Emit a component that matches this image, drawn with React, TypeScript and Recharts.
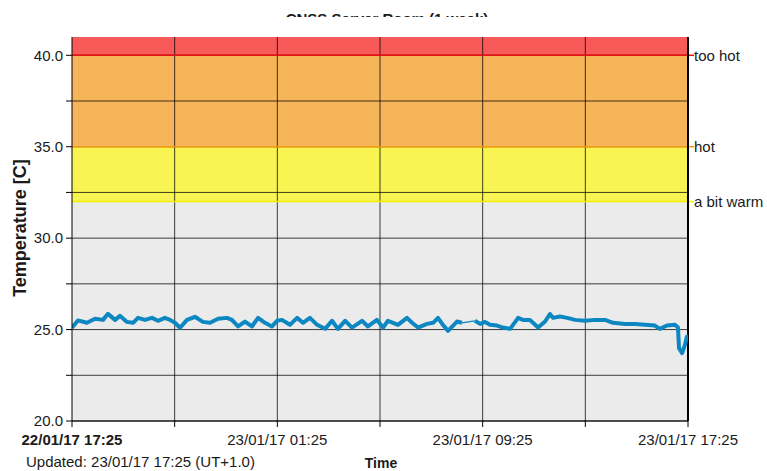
import React from 'react';
import { ComposedChart, Line, XAxis, YAxis, ReferenceArea, ReferenceLine } from 'recharts';

// hours since 22/01/17 17:25
const hours = [
  0, 0.23, 0.58, 0.9, 1.21, 1.4, 1.68, 1.87, 2.14, 2.38, 2.57, 2.84, 3.12, 3.35, 3.62, 3.82,
  4.01, 4.21, 4.48, 4.79, 5.1, 5.38, 5.69, 6.04, 6.23, 6.47, 6.74, 7.01, 7.25, 7.52, 7.79, 7.99,
  8.18, 8.49, 8.77, 9.0, 9.27, 9.55, 9.86, 10.13, 10.36, 10.64, 10.91, 11.3, 11.53, 11.88, 12.12,
  12.31, 12.51, 12.7, 13.05, 13.25, 13.48, 13.83, 14.07, 14.26, 14.45, 14.65, 15.0, 15.19, 15.45,
  15.7, 15.9, 16.09, 16.29, 16.56, 16.79, 17.07, 17.38, 17.57, 17.84, 18.16, 18.43, 18.62, 18.74,
  19.01, 19.29, 19.6, 19.99, 20.38, 20.77, 21.08, 21.55, 21.94, 22.32, 22.71, 22.9, 23.18, 23.49,
  23.61, 23.65, 23.77, 23.88, 23.96, 24.0,
];
const temps: (number | null)[] = [
  25.1, 25.5, 25.37, 25.59, 25.53, 25.86, 25.53, 25.75, 25.42, 25.37, 25.64, 25.53, 25.64, 25.48, 25.64, 25.53,
  25.37, 25.1, 25.53, 25.7, 25.42, 25.37, 25.59, 25.64, 25.53, 25.17, 25.44, 25.17, 25.64, 25.37, 25.17, 25.48,
  25.53, 25.26, 25.64, 25.37, 25.64, 25.26, 25.04, 25.48, 25.04, 25.48, 25.11, 25.48, 25.17, 25.53, 25.11,
  25.48, 25.37, 25.26, 25.64, 25.37, 25.11, 25.31, 25.37, 25.64, 25.26, 24.93, 25.44, 25.37, null,
  25.48, 25.31, 25.42, 25.26, 25.22, 25.11, 25.04, 25.64, 25.53, 25.53, 25.11, 25.44, 25.85, 25.64,
  25.71, 25.64, 25.53, 25.48, 25.53, 25.53, 25.37, 25.31, 25.31, 25.26, 25.22, 25.04, 25.22, 25.26,
  25.11, 23.98, 23.71, 24.16, 24.62, 24.55,
];
// thin connecting segment across the data gap
const gapHours = [15.19, 15.7];
const gapTemps = [25.37, 25.48];

const xTicks = [0, 4, 8, 12, 16, 20, 24];
const xTickLabels = ['22/01/17 17:25', '', '23/01/17 01:25', '', '23/01/17 09:25', '', '23/01/17 17:25'];
const yTicks = [20, 22.5, 25, 27.5, 30, 32.5, 35, 37.5, 40];
const yLabelTicks = [20, 25, 30, 35, 40];

const bandFrom = [20, 32, 35, 40];
const bandTo = [32, 35, 40, 41];
const bandColors = ['#ebebeb', '#f8f552', '#f7b55a', '#f85a5a'];

const thresholdValues = [32, 35, 40];
const thresholdNames = ['a bit warm', 'hot', 'too hot'];
const thresholdColors = ['#f2ee00', '#f89a10', '#e81010'];

const title = 'CNSS Server Room (1 week)';
const yTitle = 'Temperature [C]';
const xTitle = 'Time';
const updated = 'Updated: 23/01/17 17:25 (UT+1.0)';

const data = hours.map((h, i) => {
  const gi = gapHours.indexOf(h);
  return { h, temp: temps[i], gap: gi >= 0 ? gapTemps[gi] : null };
});

const FONT = 'Arial, "Liberation Sans", sans-serif';

const XTick = (props: any) => {
  const { x, y, payload } = props;
  const idx = xTicks.indexOf(payload.value);
  const label = idx >= 0 ? xTickLabels[idx] : '';
  return (
    <text x={x} y={y} dy={15} textAnchor="middle" fontSize={15} fontFamily={FONT}
      fill="#1a1a1a" fontWeight={idx === 0 ? 'bold' : 'normal'}>
      {label}
    </text>
  );
};

const makeThresholdLabel = (idx: number) => (p: any) => {
  const vb = p.viewBox || {};
  const x = (vb.x || 0) + (vb.width || 0);
  const y = vb.y || 0;
  return (
    <g>
      <line x1={x} x2={x + 6} y1={y} y2={y} stroke={thresholdColors[idx]} strokeWidth={1.5} />
      <text x={x + 6} y={y} dy={5.5} fontSize={15} fontFamily={FONT} fill="#1a1a1a">
        {thresholdNames[idx]}
      </text>
    </g>
  );
};

export default function App() {
  return (
    <div style={{ position: 'absolute', left: 0, top: 0, width: 767, height: 471, background: '#fff' }}>
      <ComposedChart width={767} height={471} data={data}
        margin={{ top: 37, right: 79, bottom: 20, left: 0 }}>
        {bandFrom.map((f, i) => (
          <ReferenceArea key={'b' + i} y1={f} y2={bandTo[i]} fill={bandColors[i]}
            fillOpacity={1} stroke="none" />
        ))}
        {yTicks.map((t) => (
          <ReferenceLine key={'gy' + t} y={t} stroke="#000" strokeOpacity={0.75} strokeWidth={1} />
        ))}
        {xTicks.slice(1, -1).map((t) => (
          <ReferenceLine key={'gx' + t} x={t} stroke="#000" strokeOpacity={0.75} strokeWidth={1} />
        ))}
        {thresholdValues.map((t, i) => (
          <ReferenceLine key={'th' + t} y={t} stroke={thresholdColors[i]} strokeWidth={1.5}
            label={{ content: makeThresholdLabel(i) } as any} />
        ))}
        <ReferenceLine x={24} stroke="#000" strokeWidth={2} />
        <XAxis dataKey="h" type="number" domain={[0, 24]} ticks={xTicks} interval={0}
          height={30} tickSize={6} tickMargin={3} stroke="#000" tick={<XTick />} allowDataOverflow />
        <YAxis type="number" domain={[20, 41]} ticks={yTicks}
          interval={0} width={72} tickSize={6} tickMargin={3} stroke="#000"
          tick={{ fontSize: 15, fontFamily: FONT, fill: '#1a1a1a' }}
          tickFormatter={(v: number) => (yLabelTicks.includes(v) ? v.toFixed(1) : '')} allowDataOverflow />
        <Line dataKey="gap" type="linear" stroke="#0d87c2" strokeWidth={1.2}
          dot={false} connectNulls isAnimationActive={false} />
        <Line dataKey="temp" type="linear" stroke="#0d87c2" strokeWidth={4}
          strokeLinejoin="round" dot={false} connectNulls={false} isAnimationActive={false} />
      </ComposedChart>
      <svg width={767} height={471} style={{ position: 'absolute', left: 0, top: 0, pointerEvents: 'none' }}>
        <defs>
          <clipPath id="titleClip">
            <rect x={0} y={0} width={767} height={17} />
          </clipPath>
        </defs>
        <text x={387} y={23.5} textAnchor="middle" fontSize={15} fontWeight="bold" fontFamily={FONT}
          fill="#1a1a1a" clipPath="url(#titleClip)">{title}</text>
        <text x={0} y={0} transform="translate(26,228) rotate(-90)" textAnchor="middle" fontSize={18}
          fontWeight="bold" fontFamily={FONT} fill="#1a1a1a">{yTitle}</text>
        <text x={381} y={468} textAnchor="middle" fontSize={14} fontWeight="bold" fontFamily={FONT}
          fill="#1a1a1a">{xTitle}</text>
        <text x={26} y={467} fontSize={15} fontFamily={FONT} fill="#1a1a1a">{updated}</text>
      </svg>
    </div>
  );
}
